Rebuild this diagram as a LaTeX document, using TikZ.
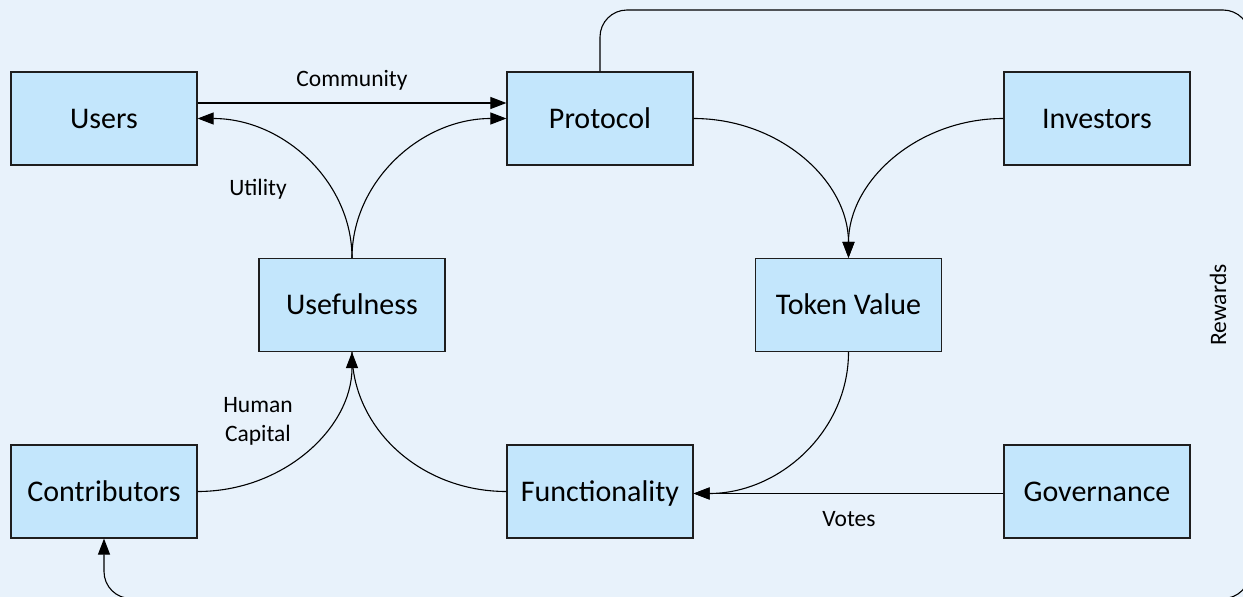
\documentclass[tikz,border=0pt]{standalone}
\usepackage{fontspec}
\setmainfont{Carlito}
\usetikzlibrary{arrows.meta,calc}

\definecolor{pagebg}{HTML}{E8F2FB}
\definecolor{boxfill}{HTML}{C3E6FC}
\definecolor{boxline}{HTML}{1E1E1E}

\tikzset{
  block/.style={draw=boxline, line width=1.2pt, fill=boxfill,
    minimum width=186pt, minimum height=93pt, inner sep=0pt,
    text height=19.3pt, text depth=0pt,
    font=\fontsize{30}{36}\selectfont},
  flow/.style={draw=black, line width=1.1pt,
    -{Triangle[length=16pt,width=12pt]}},
  plainflow/.style={draw=black, line width=1.1pt},
  lbl/.style={font=\fontsize{23.5}{29}\selectfont, inner sep=0pt, align=center}
}

\begin{document}
\begin{tikzpicture}[x=1pt, y=-1pt]
  % canvas, fixed size and clipped to it
  \useasboundingbox (0,0) rectangle (1243,597);
  \clip (0,0) rectangle (1243,597);
  \fill[pagebg] (0,0) rectangle (1243,597);

  % boxes
  \node[block] (users)   at (104,118.5)   {Users};
  \node[block] (proto)   at (600,118.5)   {Protocol};
  \node[block] (invest)  at (1097,118.5)  {Investors};
  \node[block] (useful)  at (352,305)     {Usefulness};
  \node[block] (token)   at (848.5,305)   {Token Value};
  \node[block] (contrib) at (104,491.5)   {Contributors};
  \node[block] (func)    at (600,491.5)   {Functionality};
  \node[block] (gov)     at (1097,491.5)  {Governance};

  % corners of the rewards loop
  \coordinate (tr) at (1250,10);
  \coordinate (br) at (1250,598.5);

  % connectors
  \draw[flow] ([yshift=15.5pt]users.east) -- ([yshift=15.5pt]proto.west);
  \draw[flow] (useful.north) .. controls +(0,-76) and +(86,0) .. (users.east);
  \draw[flow] (useful.north) .. controls +(0,-76) and +(-86,0) .. (proto.west);
  \draw[flow] (proto.east) .. controls +(86,0) and +(0,-77) .. (token.north);
  \draw[flow] (invest.west) .. controls +(-86,0) and +(0,-77) .. (token.north);
  \draw[flow] (token.south) .. controls +(0,79) and +(86,0) .. ([yshift=-2pt]func.east);
  \draw[flow] ([yshift=-2pt]gov.west) -- ([yshift=-2pt]func.east);
  \draw[flow] (contrib.east) .. controls +(86,0) and +(0,76) .. (useful.south);
  \draw[plainflow] (func.west) .. controls +(-86,0) and +(0,76) .. (useful.south);
  \draw[flow, rounded corners=27pt] (proto.north) |- (tr) -- (br) -| (contrib.south);

  % labels
  \node[lbl] (lcomm) at (352,80)  {Community};
  \node[lbl] (lutil) at (258,189) {Utility};
  \node[lbl] (lhum)  at (258,421) {Human\\Capital};
  \node[lbl] (lvote) at (849,519) {Votes};
  \node[lbl, rotate=90] (lrew) at (1218,305) {Rewards};
\end{tikzpicture}
\end{document}
